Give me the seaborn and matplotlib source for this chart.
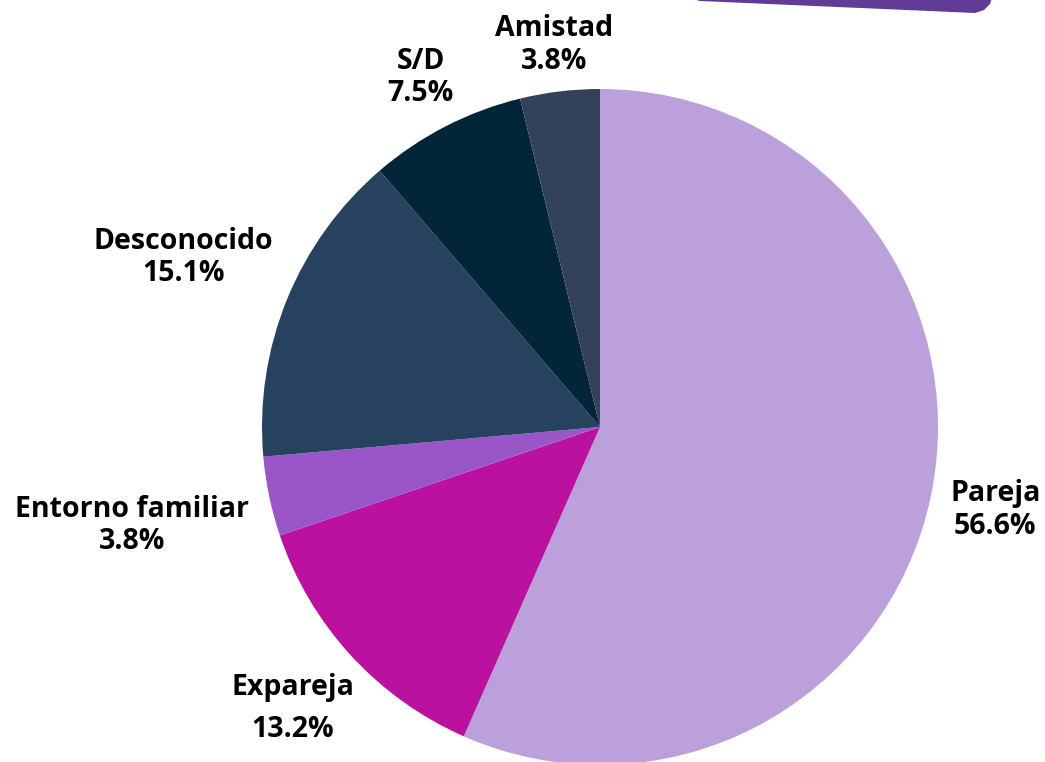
import numpy as np
import matplotlib
matplotlib.use("Agg")
import matplotlib.pyplot as plt
from matplotlib.patches import Polygon
import seaborn as sns

# Data
categories = ["Pareja", "Expareja", "Entorno familiar", "Desconocido", "S/D", "Amistad"]
values = [56.6, 13.2, 3.8, 15.1, 7.5, 3.8]
colors = ["#BBA0DC", "#BA129E", "#9A55C8", "#26425E", "#022638", "#33425A"]
label_dist = [1.195, 1.233, 1.416, 1.331, 1.162, 1.138]
line_gap = [1.15, 1.6, 1.15, 1.15, 1.15, 1.15]

sns.set_theme(style="white")
plt.rcParams["font.family"] = ["Open Sans", "DejaVu Sans"]
palette = sns.color_palette(colors)

W, H = 1045, 762
fig = plt.figure(figsize=(W / 100, H / 100), dpi=100)
ax = fig.add_axes([0, 0, 1, 1])

cx, cy, r = 600, 427, 338
wedges, _ = ax.pie(values, colors=palette, startangle=90, counterclock=False,
                   radius=1, center=(0, 0), wedgeprops=dict(linewidth=0))

for w, cat, v, d, ls in zip(wedges, categories, values, label_dist, line_gap):
    ang = np.deg2rad((w.theta1 + w.theta2) / 2)
    ax.text(d * np.cos(ang), d * np.sin(ang), f"{cat}\n{v:.1f}%",
            ha="center", va="center", fontsize=20.5, fontweight="bold",
            color="black", linespacing=ls)

ax.set_aspect("equal")
ax.set_xlim(-cx / r, (W - cx) / r)
ax.set_ylim(-(H - cy) / r, cy / r)
ax.axis("off")

# decorative banner top right
pts = [(688, -2), (992, -2), (990, 4), (984, 10), (975, 13), (700, 1)]
banner = Polygon([(x / W, 1 - y / H) for x, y in pts], closed=True,
                 transform=fig.transFigure, facecolor="#613C96", edgecolor="none")
fig.patches.append(banner)

fig.savefig("out.png", dpi=100, facecolor="white")
